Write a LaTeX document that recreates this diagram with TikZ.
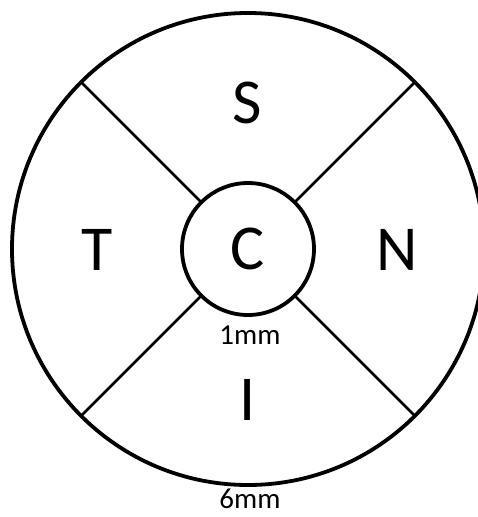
\documentclass[tikz,border=0pt]{standalone}
\usepackage{fontspec}
\setmainfont{Carlito}
\begin{document}
\begin{tikzpicture}[x=1pt,y=1pt,
	ring/.style={draw, circle, line width=3.8pt, inner sep=0pt, outer sep=0pt},
	zone/.style={font=\fontsize{64}{68}\selectfont, inner sep=0pt},
	size/.style={font=\fontsize{29}{32}\selectfont, inner sep=0pt}]
			\useasboundingbox (-248,-268) rectangle (230,249);
			\node[ring, minimum size=472] (outer) at (0,0) {};
			\node[ring, minimum size=132] (C) at (0,0) {};
			\node[zone] (Clabel) at (C) {C};
			\foreach \a in {45,135,225,315}
				\draw[line width=2.8pt] (C.\a) -- (outer.\a);
			\node[zone] (S) at (-1,146) {S};
			\node[zone] (T) at (-151,-1) {T};
			\node[zone] (N) at (149,-1) {N};
			\node[zone] (I) at (0,-151) {I};
			\node[size] (inner) at (2,-86) {1mm};
			\node[size] (whole) at (2,-250) {6mm};
		\end{tikzpicture}
\end{document}
